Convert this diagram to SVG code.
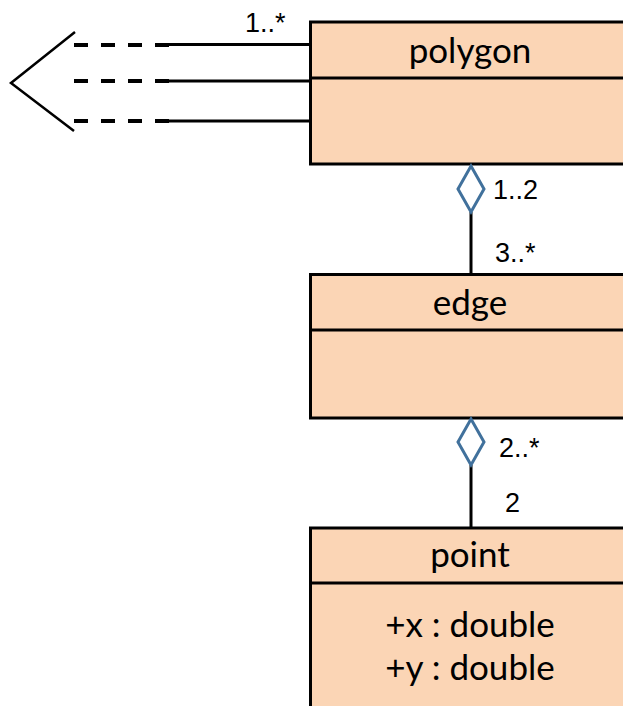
<svg xmlns="http://www.w3.org/2000/svg" width="623" height="706" viewBox="0 0 623 706">
<style>
.box{fill:#FBD5B5;stroke:#000;stroke-width:3}
.div{stroke:#000;stroke-width:3}
.name{font-family:Lato,"Open Sans",sans-serif;font-size:35px;fill:#000;text-anchor:middle}
.lbl{font-family:"Liberation Sans",Arial,sans-serif;font-size:27px;fill:#000}
.line{stroke:#000;stroke-width:3;fill:none}
.dash{stroke:#000;stroke-width:4;fill:none;stroke-dasharray:14 13}
.dia{fill:#fff;stroke:#41719C;stroke-width:3;stroke-linejoin:miter}
</style>
<rect width="623" height="706" fill="#fff"/>
<g id="polygon">
<rect class="box" x="310.5" y="22" width="330" height="142"/>
<line class="div" x1="310.5" y1="78" x2="640" y2="78"/>
<text class="name" x="470" y="63">polygon</text>
</g>
<g id="edge">
<rect class="box" x="310.5" y="274.5" width="330" height="143.5"/>
<line class="div" x1="310.5" y1="330" x2="640" y2="330"/>
<text class="name" x="470" y="315">edge</text>
</g>
<g id="point">
<rect class="box" x="310.5" y="528" width="330" height="200"/>
<line class="div" x1="310.5" y1="583" x2="640" y2="583"/>
<text class="name" x="470" y="567">point</text>
<text class="name" x="470" y="637">+x : double</text>
<text class="name" x="470" y="680">+y : double</text>
</g>
<g id="connectors">
<line class="line" x1="169" y1="44.5" x2="310" y2="44.5"/>
<line class="line" x1="169" y1="81" x2="310" y2="81"/>
<line class="line" x1="169" y1="121" x2="310" y2="121"/>
<line class="dash" x1="74" y1="45" x2="170" y2="45"/>
<line class="dash" x1="74" y1="81" x2="170" y2="81"/>
<line class="dash" x1="74" y1="121" x2="170" y2="121"/>
<polyline points="75,32 11,83 74,131" fill="none" stroke="#000" stroke-width="2.5"/>
<line class="line" x1="471" y1="212" x2="471" y2="274"/>
<polygon class="dia" points="471,166 484,189 471,212 458,189"/>
<line class="line" x1="471" y1="465" x2="471" y2="528"/>
<polygon class="dia" points="471,419 484,442 471,465 458,442"/>
<text class="lbl" x="245" y="32">1..*</text>
<text class="lbl" x="493" y="199">1..2</text>
<text class="lbl" x="495" y="262">3..*</text>
<text class="lbl" x="499" y="457">2..*</text>
<text class="lbl" x="505" y="512">2</text>
</g>
</svg>
